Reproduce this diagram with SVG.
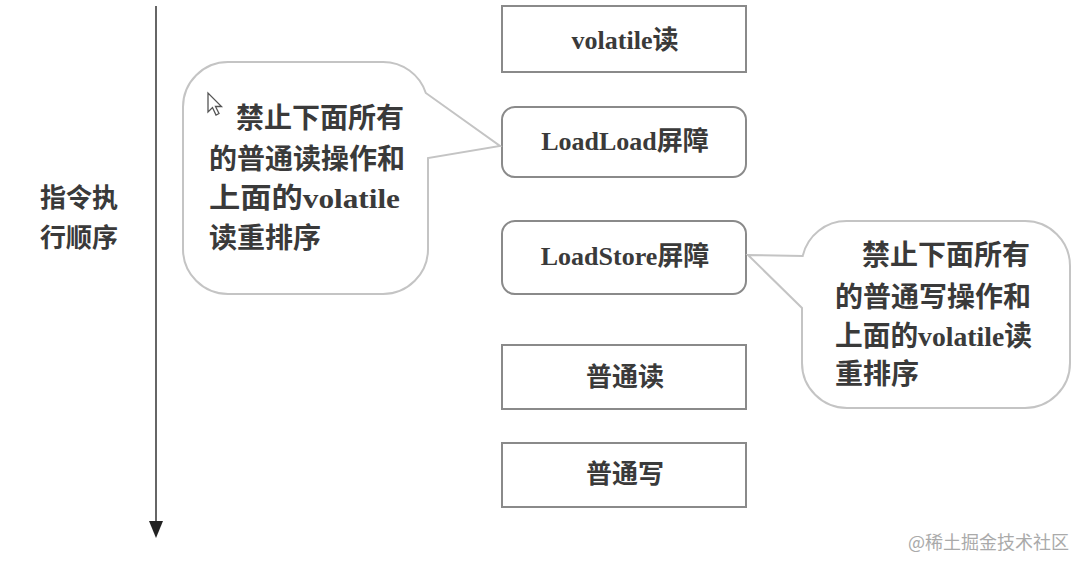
<svg xmlns="http://www.w3.org/2000/svg" width="1087" height="570" viewBox="0 0 1087 570">
<style>
.t{font-family:"Liberation Serif","Noto Sans CJK SC",serif;font-weight:bold;fill:#3a3a3a;dominant-baseline:central}
.c{text-anchor:middle;font-size:26px}
.b{font-size:28px}
.box{fill:#fff;stroke:#8a8a8a;stroke-width:2}
.bub{fill:#fff;stroke:#c4c4c4;stroke-width:2}
</style>
<rect width="1087" height="570" fill="#fff"/>
<g id="connectors">
<line x1="156" y1="6" x2="156" y2="524" stroke="#666" stroke-width="2"/>
<polygon points="149,521 163,521 156,538" fill="#222"/>
</g>
<g id="axis-label">
<text class="t" x="40" y="198" font-size="26">指令执</text>
<text class="t" x="40" y="238" font-size="26">行顺序</text>
</g>
<g id="n-volatile-read">
<rect class="box" x="502" y="6" width="244" height="66"/>
<text class="t c" x="625" y="40">volatile读</text>
</g>
<g id="n-loadload">
<rect class="box" x="502" y="107" width="244" height="70" rx="13"/>
<text class="t c" x="625" y="141">LoadLoad屏障</text>
</g>
<g id="n-loadstore">
<rect class="box" x="502" y="221" width="244" height="73" rx="13"/>
<text class="t c" x="625" y="256">LoadStore屏障</text>
</g>
<g id="n-normal-read">
<rect class="box" x="502" y="345" width="244" height="64"/>
<text class="t c" x="625" y="377">普通读</text>
</g>
<g id="n-normal-write">
<rect class="box" x="502" y="443" width="244" height="64"/>
<text class="t c" x="625" y="474">普通写</text>
</g>
<g id="callout-left">
<path class="bub" d="M228,62 H383 A45,45 0 0 1 425.8,93 L500,146 L428,158 V249 A45,45 0 0 1 383,294 H228 A45,45 0 0 1 183,249 V107 A45,45 0 0 1 228,62 Z"/>
<path d="M208,93 V112 L212.5,107.5 L216,115 L219,113.5 L215.5,106.5 L221.5,106.5 Z" fill="#fff" stroke="#555" stroke-width="1.3"/>
<text class="t b" x="236" y="118">禁止下面所有</text>
<text class="t b" x="209" y="159">的普通读操作和</text>
<text class="t b" x="209" y="198" textLength="191" lengthAdjust="spacingAndGlyphs">上面的volatile</text>
<text class="t b" x="209" y="238">读重排序</text>
</g>
<g id="callout-right">
<path class="bub" d="M847,221 H1025 A45,45 0 0 1 1070,266 V363 A45,45 0 0 1 1025,408 H847 A45,45 0 0 1 802,363 V308 L748,255 L802.7,256 A45,45 0 0 1 847,221 Z"/>
<text class="t b" x="862" y="255">禁止下面所有</text>
<text class="t b" x="835" y="297">的普通写操作和</text>
<text class="t b" x="835" y="336" textLength="197" lengthAdjust="spacingAndGlyphs">上面的volatile读</text>
<text class="t b" x="835" y="374">重排序</text>
</g>
<text x="908" y="549" font-family="'Noto Sans CJK SC','Noto Sans',sans-serif" font-size="18" fill="#aaa">@稀土掘金技术社区</text>
</svg>
